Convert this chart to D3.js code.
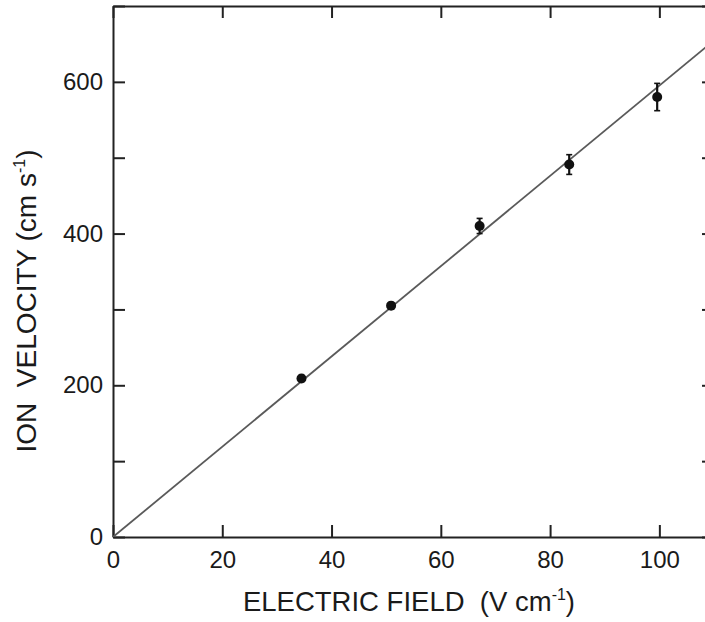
<!DOCTYPE html>
<html>
<head>
<meta charset="utf-8">
<script src="https://cdn.jsdelivr.net/npm/d3@7"></script>
<style>
  html, body { margin: 0; padding: 0; background: #fff; }
  svg { display: block; }
  text { font-family: "Liberation Sans", Arial, Helvetica, sans-serif; fill: #1a1a1a; }
</style>
</head>
<body>
<script>
// Measured drift velocity of ions versus applied electric field
const field = [34.5, 50.9, 67.1, 83.5, 99.6];      // V cm^-1
const velocity = [209, 305, 410, 491, 580];         // cm s^-1
const velocityErr = [4, 4, 10, 13, 18];             // cm s^-1
const fitSlope = 5.95;                              // cm s^-1 per V cm^-1, line through origin

const xTicks = [0, 20, 40, 60, 80, 100];
const yTicks = [0, 100, 200, 300, 400, 500, 600, 700];
const yTickLabels = [0, 200, 400, 600];

const W = 705, H = 622;
const mLeft = 113, mRight = 714, mTop = 6, mBottom = 537;

const svg = d3.select("body").append("svg").attr("width", W).attr("height", H);

const x = d3.scaleLinear().domain([0, 110]).range([mLeft, mRight]);
const y = d3.scaleLinear().domain([0, 700]).range([mBottom, mTop]);

const ink = "#222";
const tickLen = 12;

// Frame and inward ticks on all four sides
const axisStyle = g => {
  g.select(".domain").attr("stroke", ink).attr("stroke-width", 2);
  g.selectAll(".tick line").attr("stroke", ink).attr("stroke-width", 2);
  g.selectAll(".tick text").style("font-size", "24px").attr("fill", "#1a1a1a");
};

svg.append("g")
  .attr("transform", `translate(0,${mBottom})`)
  .call(d3.axisBottom(x).tickValues(xTicks).tickSizeInner(-tickLen).tickSizeOuter(0).tickFormat(d3.format("d")))
  .call(axisStyle)
  .call(g => g.selectAll(".tick text").attr("dy", "0.71em").attr("y", 14));

svg.append("g")
  .attr("transform", `translate(0,${mTop})`)
  .call(d3.axisTop(x).tickValues(xTicks).tickSizeInner(-tickLen).tickSizeOuter(0).tickFormat(""))
  .call(axisStyle);

svg.append("g")
  .attr("transform", `translate(${mLeft},0)`)
  .call(d3.axisLeft(y).tickValues(yTicks).tickSizeInner(-tickLen).tickSizeOuter(0)
    .tickFormat(d => yTickLabels.includes(d) ? d : ""))
  .call(axisStyle)
  .call(g => g.selectAll(".tick text").attr("x", -10));

svg.append("g")
  .attr("transform", `translate(${mRight},0)`)
  .call(d3.axisRight(y).tickValues(yTicks).tickSizeInner(-tickLen).tickSizeOuter(0).tickFormat(""))
  .call(axisStyle);

// Clip data marks to the plotting frame
svg.append("clipPath").attr("id", "plot-clip")
  .append("rect").attr("x", mLeft).attr("y", mTop).attr("width", mRight - mLeft).attr("height", mBottom - mTop);

const plot = svg.append("g").attr("clip-path", "url(#plot-clip)");

// Linear fit through the origin
const fitX = x.domain();
plot.append("line")
  .attr("x1", x(fitX[0])).attr("y1", y(fitSlope * fitX[0]))
  .attr("x2", x(fitX[1])).attr("y2", y(fitSlope * fitX[1]))
  .attr("stroke", "#5a5a5a").attr("stroke-width", 1.8);

const pts = field.map((f, i) => ({ f, v: velocity[i], e: velocityErr[i] }));

// Error bars with short caps
const eb = plot.append("g").selectAll("g").data(pts).join("g");
eb.append("line")
  .attr("x1", d => x(d.f)).attr("x2", d => x(d.f))
  .attr("y1", d => y(d.v - d.e)).attr("y2", d => y(d.v + d.e))
  .attr("stroke", "#111").attr("stroke-width", 2.2);
eb.selectAll(".cap").data(d => [[d.f, d.v - d.e], [d.f, d.v + d.e]]).join("line")
  .attr("class", "cap")
  .attr("x1", d => x(d[0]) - 3).attr("x2", d => x(d[0]) + 3)
  .attr("y1", d => y(d[1])).attr("y2", d => y(d[1]))
  .attr("stroke", "#111").attr("stroke-width", 1.6);

// Data markers
plot.append("g").selectAll("circle").data(pts).join("circle")
  .attr("cx", d => x(d.f)).attr("cy", d => y(d.v)).attr("r", 5)
  .attr("fill", "#111");

// Axis titles
const xt = svg.append("text")
  .attr("x", 409).attr("y", 611)
  .attr("text-anchor", "middle").style("font-size", "27.5px");
xt.append("tspan").text("ELECTRIC FIELD\u00a0\u00a0(V cm");
xt.append("tspan").text("-1").style("font-size", "16px").attr("dy", -11);
xt.append("tspan").text(")").attr("dy", 11);

const yt = svg.append("text")
  .attr("transform", "translate(36,301) rotate(-90)")
  .attr("text-anchor", "middle").style("font-size", "28px");
yt.append("tspan").text("ION\u00a0\u00a0VELOCITY (cm s");
yt.append("tspan").text("-1").style("font-size", "16px").attr("dy", -11);
yt.append("tspan").text(")").attr("dy", 11);
</script>
</body>
</html>
